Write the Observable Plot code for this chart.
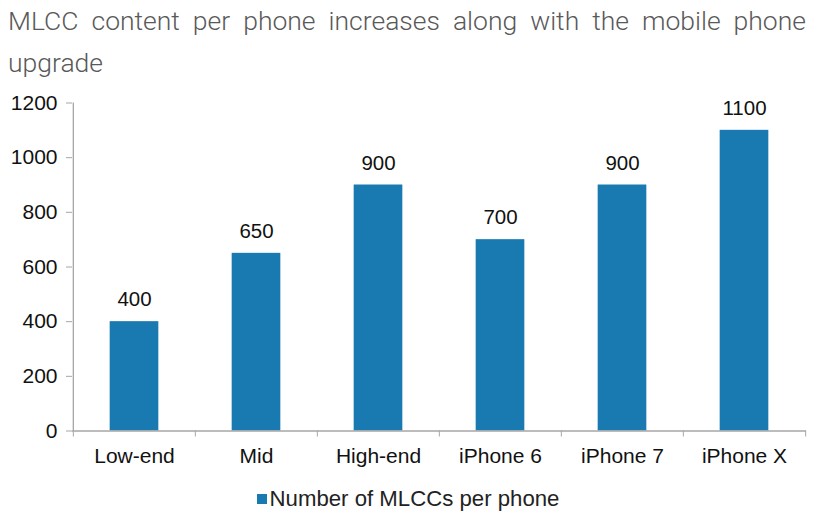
<!DOCTYPE html>
<html>
<head>
<meta charset="utf-8">
<script src="https://cdn.jsdelivr.net/npm/d3@7"></script>
<script src="https://cdn.jsdelivr.net/npm/@observablehq/plot@0.6"></script>
<style>
  body { margin: 0; background: #fff; width: 816px; overflow: hidden; }
  #title { font-family: Roboto, "Liberation Sans", sans-serif; font-weight: 300; font-size: 26.5px; line-height: 42px;
           color: #595959; padding-left: 8px; width: 798px; height: 84px; box-sizing: content-box; }
  #title .l1 { text-align: justify; text-align-last: justify; }
  #legend { font-family: "Liberation Sans", Arial, sans-serif; font-size: 22.2px; color: #222; display: flex; justify-content: center;
            align-items: center; height: 30px; margin-top: 0px; }
  #legend .sw { width: 10px; height: 10px; background: #187ab1; margin-right: 3px; }
  svg text { font-family: "Liberation Sans", Arial, sans-serif; }
</style>
</head>
<body>
<div id="title"><div class="l1">MLCC content per phone increases along with the mobile phone</div><div>upgrade</div></div>
<div id="chart"></div>
<div id="legend"><span class="sw"></span><span id="legendLabel"></span></div>
<script>
const categories = ["Low-end", "Mid", "High-end", "iPhone 6", "iPhone 7", "iPhone X"];
const values = [400, 650, 900, 700, 900, 1100];
const yTicks = [0, 200, 400, 600, 800, 1000, 1200];
const seriesName = "Number of MLCCs per phone";
const barColor = "#187ab1";

const data = categories.map((c, i) => ({category: c, value: values[i]}));
document.getElementById("legendLabel").textContent = seriesName;

const W = 816, marginLeft = 72, marginRight = 10;
const band = (W - marginLeft - marginRight) / categories.length;
const barW = 49;
const axisColor = "#a6a6a6";

const chart = Plot.plot({
  width: W,
  height: 400,
  marginLeft,
  marginRight,
  marginTop: 18.5,
  marginBottom: 53.5,
  style: {fontSize: "21px", color: "#111", background: "white"},
  x: {domain: categories, padding: 0, label: null},
  y: {domain: [0, 1200], label: null},
  marks: [
    Plot.barY(data, {x: "category", y: "value", fill: barColor, insetLeft: (band - barW) / 2, insetRight: (band - barW) / 2}),
    Plot.text(data, {x: "category", y: "value", text: d => String(d.value), dy: -22, fill: "#111", fontSize: 20.5}),
    Plot.axisY(yTicks, {tickSize: 6, tickPadding: 9, tickFormat: d => String(d), stroke: axisColor, fill: "#111", fontSize: 21, label: null}),
    Plot.ruleX([0], {x: () => categories[0], y1: 0, y2: 1200, dx: -band / 2, stroke: axisColor, strokeWidth: 1.3}),
    Plot.ruleY([0], {stroke: axisColor, strokeWidth: 1.3}),
    Plot.ruleX(categories, {x: d => d, y1: 0, y2: 0, dx: -band / 2, insetBottom: -6, stroke: axisColor}),
    Plot.ruleX([categories[categories.length - 1]], {x: d => d, y1: 0, y2: 0, dx: band / 2, insetBottom: -6, stroke: axisColor}),
    Plot.axisX({tickSize: 0, tickPadding: 17, fill: "#111", fontSize: 21, label: null})
  ]
});
document.getElementById("chart").appendChild(chart);
</script>
</body>
</html>
